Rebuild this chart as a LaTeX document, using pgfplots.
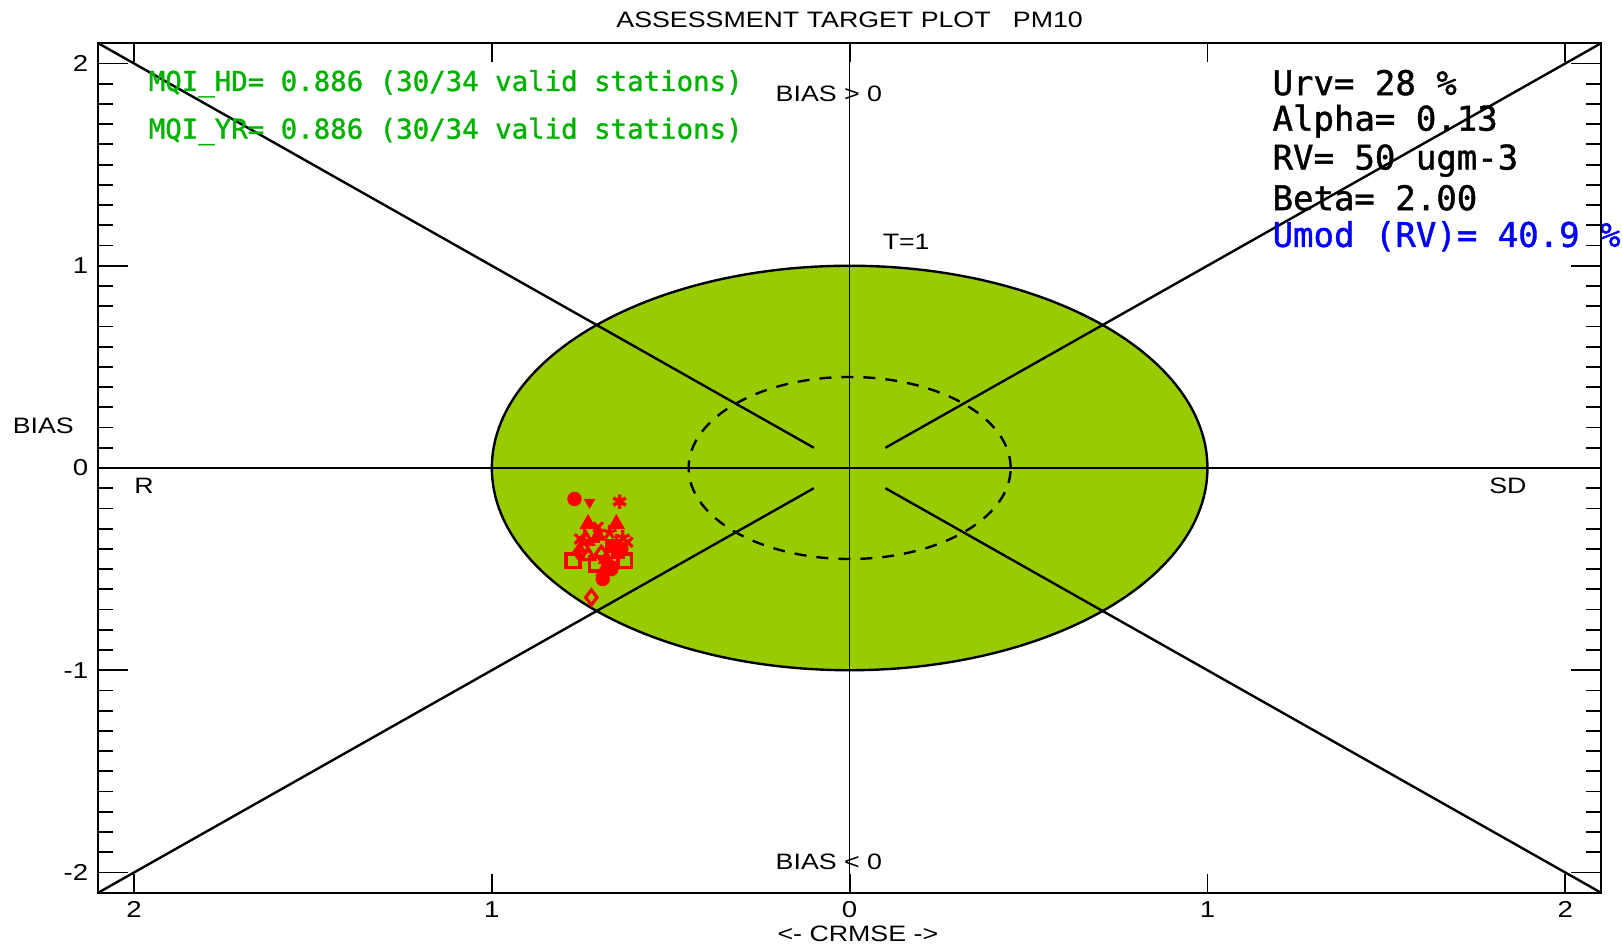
\documentclass[border=0pt]{standalone}
\usepackage{pgfplots}
\pgfplotsset{compat=1.18}
\usepackage{fontspec}
\setmainfont{Liberation Sans}[FakeStretch=1.2]
\newfontfamily\hfont{DejaVu Sans Mono}[FakeBold=1.2]
\definecolor{tgreen}{RGB}{153,204,0}
\definecolor{tgtext}{RGB}{0,178,0}
\definecolor{tblue}{RGB}{0,0,255}
\definecolor{tred}{RGB}{255,0,0}
\tikzset{lab/.style={font=\fontsize{11.15}{13}\selectfont}}
\pgfplotsset{tgt/.style={
  scale only axis, width=751.35pt, height=424.7pt,
  xmin=-2.1,xmax=2.1,ymin=-2.1,ymax=2.1,
  axis line style={line width=1pt, black},
  every tick/.style={black, line width=0.9pt},
  tick align=inside,
  tick label style={font=\fontsize{11.5}{13}\selectfont},
}}
\begin{document}
\begin{tikzpicture}
\begin{axis}[tgt, clip=false,
  xtick=\empty,
  ytick={-2,-1,0,1,2}, yticklabels={-2,-1,0,1,2},
  yticklabel style={xshift=-1.5pt},
  minor y tick num=9,
  major tick length=15pt, minor tick length=7.5pt,
  ]
\coordinate (bl) at (rel axis cs:0,0);
\coordinate (tr) at (rel axis cs:1,1);
\fill[tgreen] (axis cs:0,0) ellipse [x radius=1, y radius=1];
\draw[line width=1.2pt] (axis cs:0,0) ellipse [x radius=1, y radius=1];
\addplot[black, line width=0.8pt] coordinates {(-2.1,0) (2.1,0)};
\addplot[black, line width=0.8pt] coordinates {(0,-2.1) (0,2.1)};
\addplot[black, line width=1.2pt] coordinates {(-2.1,2.1) (-0.1,0.1)};
\addplot[black, line width=1.2pt] coordinates {(2.1,2.1) (0.1,0.1)};
\addplot[black, line width=1.2pt] coordinates {(-2.1,-2.1) (-0.1,-0.1)};
\addplot[black, line width=1.2pt] coordinates {(2.1,-2.1) (0.1,-0.1)};
\draw[line width=1.2pt, dash pattern=on 6pt off 5pt] (axis cs:0,0) ellipse [x radius=0.45, y radius=0.45];
% markers
\addplot[only marks, mark=*, mark size=3.4pt, tred] coordinates {(-0.769,-0.153) (-0.690,-0.549) (-0.638,-0.400) (-0.666,-0.500)};
\addplot[only marks, mark=triangle*, mark size=3pt, tred, mark options={rotate=180}] coordinates {(-0.727,-0.169)};
\addplot[only marks, mark=asterisk, mark size=3.6pt, tred, line width=1.8pt] coordinates {(-0.643,-0.166)};
\addplot[only marks, mark=star, mark size=3.6pt, tred, line width=1.6pt] coordinates {(-0.634,-0.343) (-0.671,-0.318)};
\addplot[only marks, mark=x, mark size=3.4pt, tred, line width=1.6pt] coordinates {(-0.755,-0.351) (-0.620,-0.367) (-0.657,-0.475) (-0.703,-0.293)};
\addplot[only marks, mark=+, mark size=3.4pt, tred, line width=1.6pt] coordinates {(-0.652,-0.359)};
\addplot[only marks, mark=triangle*, mark size=3.8pt, tred, line width=1.2pt] coordinates {(-0.731,-0.277) (-0.652,-0.277) (-0.703,-0.335) (-0.680,-0.450)};
\addplot[only marks, mark=triangle, mark size=3.8pt, tred, line width=1.6pt] coordinates {(-0.745,-0.392) (-0.731,-0.434) (-0.685,-0.508) (-0.736,-0.359)};
\addplot[only marks, mark=square, mark size=3.4pt, tred, line width=1.8pt] coordinates {(-0.722,-0.326) (-0.773,-0.458) (-0.708,-0.475) (-0.629,-0.458)};
\addplot[only marks, mark=square*, mark size=3.2pt, tred] coordinates {(-0.666,-0.384) (-0.648,-0.417)};
\addplot[only marks, mark=diamond, mark size=3.8pt, tred, line width=1.6pt] coordinates {(-0.694,-0.425) (-0.755,-0.417) (-0.722,-0.640)};
% texts
\node[lab] at (axis cs:0,2.1) [yshift=11.8pt] {ASSESSMENT TARGET PLOT\ \ \ PM10};
\node[lab] at (axis cs:0.023,-2.1) [yshift=-20.6pt] {<- CRMSE ->};
\node[lab] at (axis cs:-2.1,0.208) [xshift=-27.5pt] {BIAS};
\node[lab] at (axis cs:-0.058,1.85) {BIAS > 0};
\node[lab] at (axis cs:-0.058,-1.945) {BIAS < 0};
\node[lab] at (axis cs:0.158,1.116) {T=1};
\node[lab] at (axis cs:-1.972,-0.089) {R};
\node[lab] at (axis cs:1.84,-0.089) {SD};
\node[anchor=west, inner sep=0, text=tgtext, font=\hfont\fontsize{13.7}{15}\selectfont] at (axis cs:-1.960,1.900) {MQI\_HD= 0.886 (30/34 valid stations)};
\node[anchor=west, inner sep=0, text=tgtext, font=\hfont\fontsize{13.7}{15}\selectfont] at (axis cs:-1.960,1.664) {MQI\_YR= 0.886 (30/34 valid stations)};
\node[anchor=west, inner sep=0, text=black, font=\hfont\fontsize{17}{19}\selectfont] at (axis cs:1.181,1.905) {Urv= 28 \%};
\node[anchor=west, inner sep=0, text=black, font=\hfont\fontsize{17}{19}\selectfont] at (axis cs:1.181,1.715) {Alpha= 0.13};
\node[anchor=west, inner sep=0, text=black, font=\hfont\fontsize{17}{19}\selectfont] at (axis cs:1.181,1.520) {RV= 50 ugm-3};
\node[anchor=west, inner sep=0, text=black, font=\hfont\fontsize{17}{19}\selectfont] at (axis cs:1.181,1.336) {Beta= 2.00};
\node[anchor=west, inner sep=0, text=tblue, font=\hfont\fontsize{17}{19}\selectfont] at (axis cs:1.181,1.146) {Umod (RV)= 40.9 \%};
\end{axis}
\begin{axis}[tgt, xtick={-2,-1,0,1,2}, xticklabels={2,1,0,1,2}, ytick=\empty, major tick length=9.5pt,
  xticklabel style={yshift=-1pt}]
\end{axis}
\pgfresetboundingbox
\path[use as bounding box] ([shift={(-49.15pt,-28.15pt)}]bl) rectangle ([shift={(10.5pt,21.65pt)}]tr);
\end{tikzpicture}
\end{document}
